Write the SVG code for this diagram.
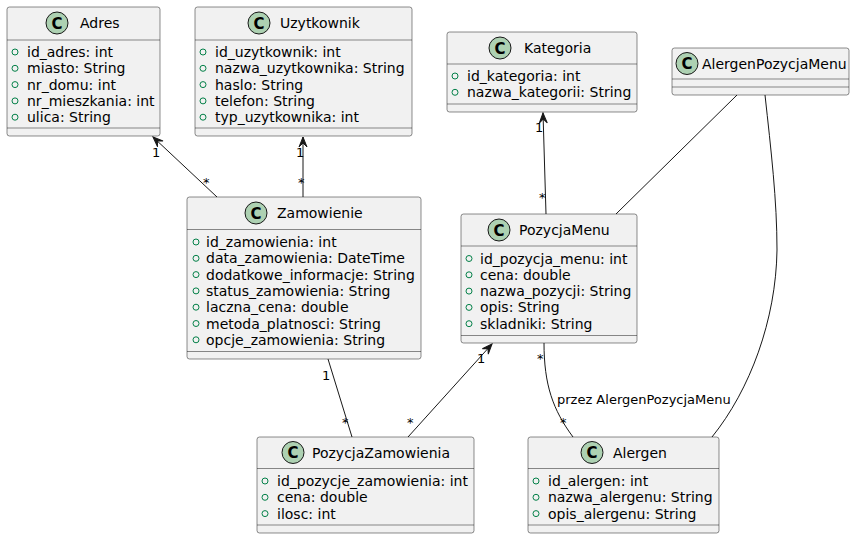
<svg xmlns="http://www.w3.org/2000/svg" width="855" height="539" viewBox="0 0 855 539">
<style>
text{font-family:"DejaVu Sans","Liberation Sans",sans-serif;fill:#000}
.box{fill:#F1F1F1;stroke:#181818;stroke-width:0.5}
.sep{stroke:#181818;stroke-width:0.5}
.ic{fill:#ADD1B2;stroke:#181818;stroke-width:1}
.cl{font-size:15px;font-weight:bold;text-anchor:middle}
.nm{font-size:14px}
.at{font-size:14px}
.vis{fill:none;stroke:#038048;stroke-width:1}
.ln{fill:none;stroke:#181818;stroke-width:1}
.lb{font-size:13px}
</style>
<defs>
<marker id="arr" markerUnits="userSpaceOnUse" markerWidth="12" markerHeight="10" viewBox="-11 -5 12 10" refX="0" refY="0" orient="auto">
<path d="M0,0 L-10,-4 L-6,0 L-10,4 Z" fill="#181818" stroke="#181818" stroke-width="1"/>
</marker>
</defs>

<g id="connectors">
<line class="ln" x1="217" y1="197" x2="153" y2="137" marker-end="url(#arr)"/>
<text class="lb" x="152" y="157">1</text>
<text class="lb" x="203" y="187">*</text>
<line class="ln" x1="303" y1="197" x2="303" y2="137" marker-end="url(#arr)"/>
<text class="lb" x="296" y="157">1</text>
<text class="lb" x="298" y="187">*</text>
<line class="ln" x1="546" y1="214" x2="543" y2="113" marker-end="url(#arr)"/>
<text class="lb" x="535" y="132">1</text>
<text class="lb" x="539" y="202">*</text>
<line class="ln" x1="737" y1="95" x2="616" y2="214"/>
<path class="ln" d="M765,95 C771,150 777,200 777,250 C776,320 750,390 712,437"/>
<line class="ln" x1="408" y1="437" x2="492" y2="344" marker-end="url(#arr)"/>
<text class="lb" x="477" y="363">1</text>
<text class="lb" x="407" y="427">*</text>
<line class="ln" x1="328" y1="359" x2="352" y2="437"/>
<text class="lb" x="322" y="380">1</text>
<text class="lb" x="342" y="427">*</text>
<path class="ln" d="M544,343 C544,385 553,410 573,437"/>
<text class="lb" x="537" y="363">*</text>
<text class="lb" x="560" y="427">*</text>
<text class="lb" x="557" y="404">przez AlergenPozycjaMenu</text>
</g>

<g id="Adres">
<rect class="box" x="7" y="7" width="153" height="129" rx="2.5"/>
<circle class="ic" cx="57" cy="23" r="11"/>
<text class="cl" x="57" y="28.5">C</text>
<text class="nm" x="80" y="28">Adres</text>
<line class="sep" x1="7" y1="40" x2="160" y2="40"/>
<circle class="vis" cx="15" cy="52" r="3"/><text class="at" x="27" y="57">id_adres: int</text>
<circle class="vis" cx="15" cy="68.3" r="3"/><text class="at" x="27" y="73.3">miasto: String</text>
<circle class="vis" cx="15" cy="84.6" r="3"/><text class="at" x="27" y="89.6">nr_domu: int</text>
<circle class="vis" cx="15" cy="100.9" r="3"/><text class="at" x="27" y="105.9">nr_mieszkania: int</text>
<circle class="vis" cx="15" cy="117.2" r="3"/><text class="at" x="27" y="122.2">ulica: String</text>
<line class="sep" x1="7" y1="128" x2="160" y2="128"/>
</g>

<g id="Uzytkownik">
<rect class="box" x="195" y="7" width="217" height="129" rx="2.5"/>
<circle class="ic" cx="259" cy="23" r="11"/>
<text class="cl" x="259" y="28.5">C</text>
<text class="nm" x="280" y="28">Uzytkownik</text>
<line class="sep" x1="195" y1="40" x2="412" y2="40"/>
<circle class="vis" cx="203" cy="52" r="3"/><text class="at" x="215" y="57">id_uzytkownik: int</text>
<circle class="vis" cx="203" cy="68.3" r="3"/><text class="at" x="215" y="73.3">nazwa_uzytkownika: String</text>
<circle class="vis" cx="203" cy="84.6" r="3"/><text class="at" x="215" y="89.6">haslo: String</text>
<circle class="vis" cx="203" cy="100.9" r="3"/><text class="at" x="215" y="105.9">telefon: String</text>
<circle class="vis" cx="203" cy="117.2" r="3"/><text class="at" x="215" y="122.2">typ_uzytkownika: int</text>
<line class="sep" x1="195" y1="128" x2="412" y2="128"/>
</g>

<g id="Kategoria">
<rect class="box" x="447" y="32" width="190" height="80" rx="2.5"/>
<circle class="ic" cx="500" cy="48" r="11"/>
<text class="cl" x="500" y="53.5">C</text>
<text class="nm" x="524" y="53">Kategoria</text>
<line class="sep" x1="447" y1="64" x2="637" y2="64"/>
<circle class="vis" cx="455" cy="76" r="3"/><text class="at" x="467" y="81">id_kategoria: int</text>
<circle class="vis" cx="455" cy="92.3" r="3"/><text class="at" x="467" y="97.3">nazwa_kategorii: String</text>
<line class="sep" x1="447" y1="104" x2="637" y2="104"/>
</g>

<g id="AlergenPozycjaMenu">
<rect class="box" x="672" y="48" width="177" height="47" rx="2.5"/>
<circle class="ic" cx="687" cy="63.5" r="11"/>
<text class="cl" x="687" y="69">C</text>
<text class="nm" x="702" y="68.5">AlergenPozycjaMenu</text>
<line class="sep" x1="672" y1="79" x2="849" y2="79"/>
<line class="sep" x1="672" y1="87" x2="849" y2="87"/>
</g>

<g id="Zamowienie">
<rect class="box" x="187" y="197" width="234" height="162" rx="2.5"/>
<circle class="ic" cx="256" cy="213" r="11"/>
<text class="cl" x="256" y="218.5">C</text>
<text class="nm" x="277" y="218">Zamowienie</text>
<line class="sep" x1="187" y1="229.5" x2="421" y2="229.5"/>
<circle class="vis" cx="196" cy="242" r="3"/><text class="at" x="206" y="247">id_zamowienia: int</text>
<circle class="vis" cx="196" cy="258.3" r="3"/><text class="at" x="206" y="263.3">data_zamowienia: DateTime</text>
<circle class="vis" cx="196" cy="274.6" r="3"/><text class="at" x="206" y="279.6">dodatkowe_informacje: String</text>
<circle class="vis" cx="196" cy="290.9" r="3"/><text class="at" x="206" y="295.9">status_zamowienia: String</text>
<circle class="vis" cx="196" cy="307.2" r="3"/><text class="at" x="206" y="312.2">laczna_cena: double</text>
<circle class="vis" cx="196" cy="323.5" r="3"/><text class="at" x="206" y="328.5">metoda_platnosci: String</text>
<circle class="vis" cx="196" cy="339.8" r="3"/><text class="at" x="206" y="344.8">opcje_zamowienia: String</text>
<line class="sep" x1="187" y1="351.5" x2="421" y2="351.5"/>
</g>

<g id="PozycjaMenu">
<rect class="box" x="461" y="214" width="176" height="129" rx="2.5"/>
<circle class="ic" cx="499" cy="230" r="11"/>
<text class="cl" x="499" y="235.5">C</text>
<text class="nm" x="519" y="235">PozycjaMenu</text>
<line class="sep" x1="461" y1="246" x2="637" y2="246"/>
<circle class="vis" cx="469" cy="258.5" r="3"/><text class="at" x="480" y="263.5">id_pozycja_menu: int</text>
<circle class="vis" cx="469" cy="274.8" r="3"/><text class="at" x="480" y="279.8">cena: double</text>
<circle class="vis" cx="469" cy="291.1" r="3"/><text class="at" x="480" y="296.1">nazwa_pozycji: String</text>
<circle class="vis" cx="469" cy="307.4" r="3"/><text class="at" x="480" y="312.4">opis: String</text>
<circle class="vis" cx="469" cy="323.7" r="3"/><text class="at" x="480" y="328.7">skladniki: String</text>
<line class="sep" x1="461" y1="335.5" x2="637" y2="335.5"/>
</g>

<g id="PozycjaZamowienia">
<rect class="box" x="257" y="437" width="217" height="96" rx="2.5"/>
<circle class="ic" cx="293" cy="452.5" r="11"/>
<text class="cl" x="293" y="458">C</text>
<text class="nm" x="312" y="457.5">PozycjaZamowienia</text>
<line class="sep" x1="257" y1="468.5" x2="474" y2="468.5"/>
<circle class="vis" cx="265" cy="481" r="3"/><text class="at" x="277" y="486">id_pozycje_zamowienia: int</text>
<circle class="vis" cx="265" cy="497.3" r="3"/><text class="at" x="277" y="502.3">cena: double</text>
<circle class="vis" cx="265" cy="513.6" r="3"/><text class="at" x="277" y="518.6">ilosc: int</text>
<line class="sep" x1="257" y1="525" x2="474" y2="525"/>
</g>

<g id="Alergen">
<rect class="box" x="528" y="437" width="191" height="96" rx="2.5"/>
<circle class="ic" cx="592" cy="452.5" r="11"/>
<text class="cl" x="592" y="458">C</text>
<text class="nm" x="613" y="457.5">Alergen</text>
<line class="sep" x1="528" y1="468.5" x2="719" y2="468.5"/>
<circle class="vis" cx="536" cy="481" r="3"/><text class="at" x="548" y="486">id_alergen: int</text>
<circle class="vis" cx="536" cy="497.3" r="3"/><text class="at" x="548" y="502.3">nazwa_alergenu: String</text>
<circle class="vis" cx="536" cy="513.6" r="3"/><text class="at" x="548" y="518.6">opis_alergenu: String</text>
<line class="sep" x1="528" y1="525" x2="719" y2="525"/>
</g>
</svg>
